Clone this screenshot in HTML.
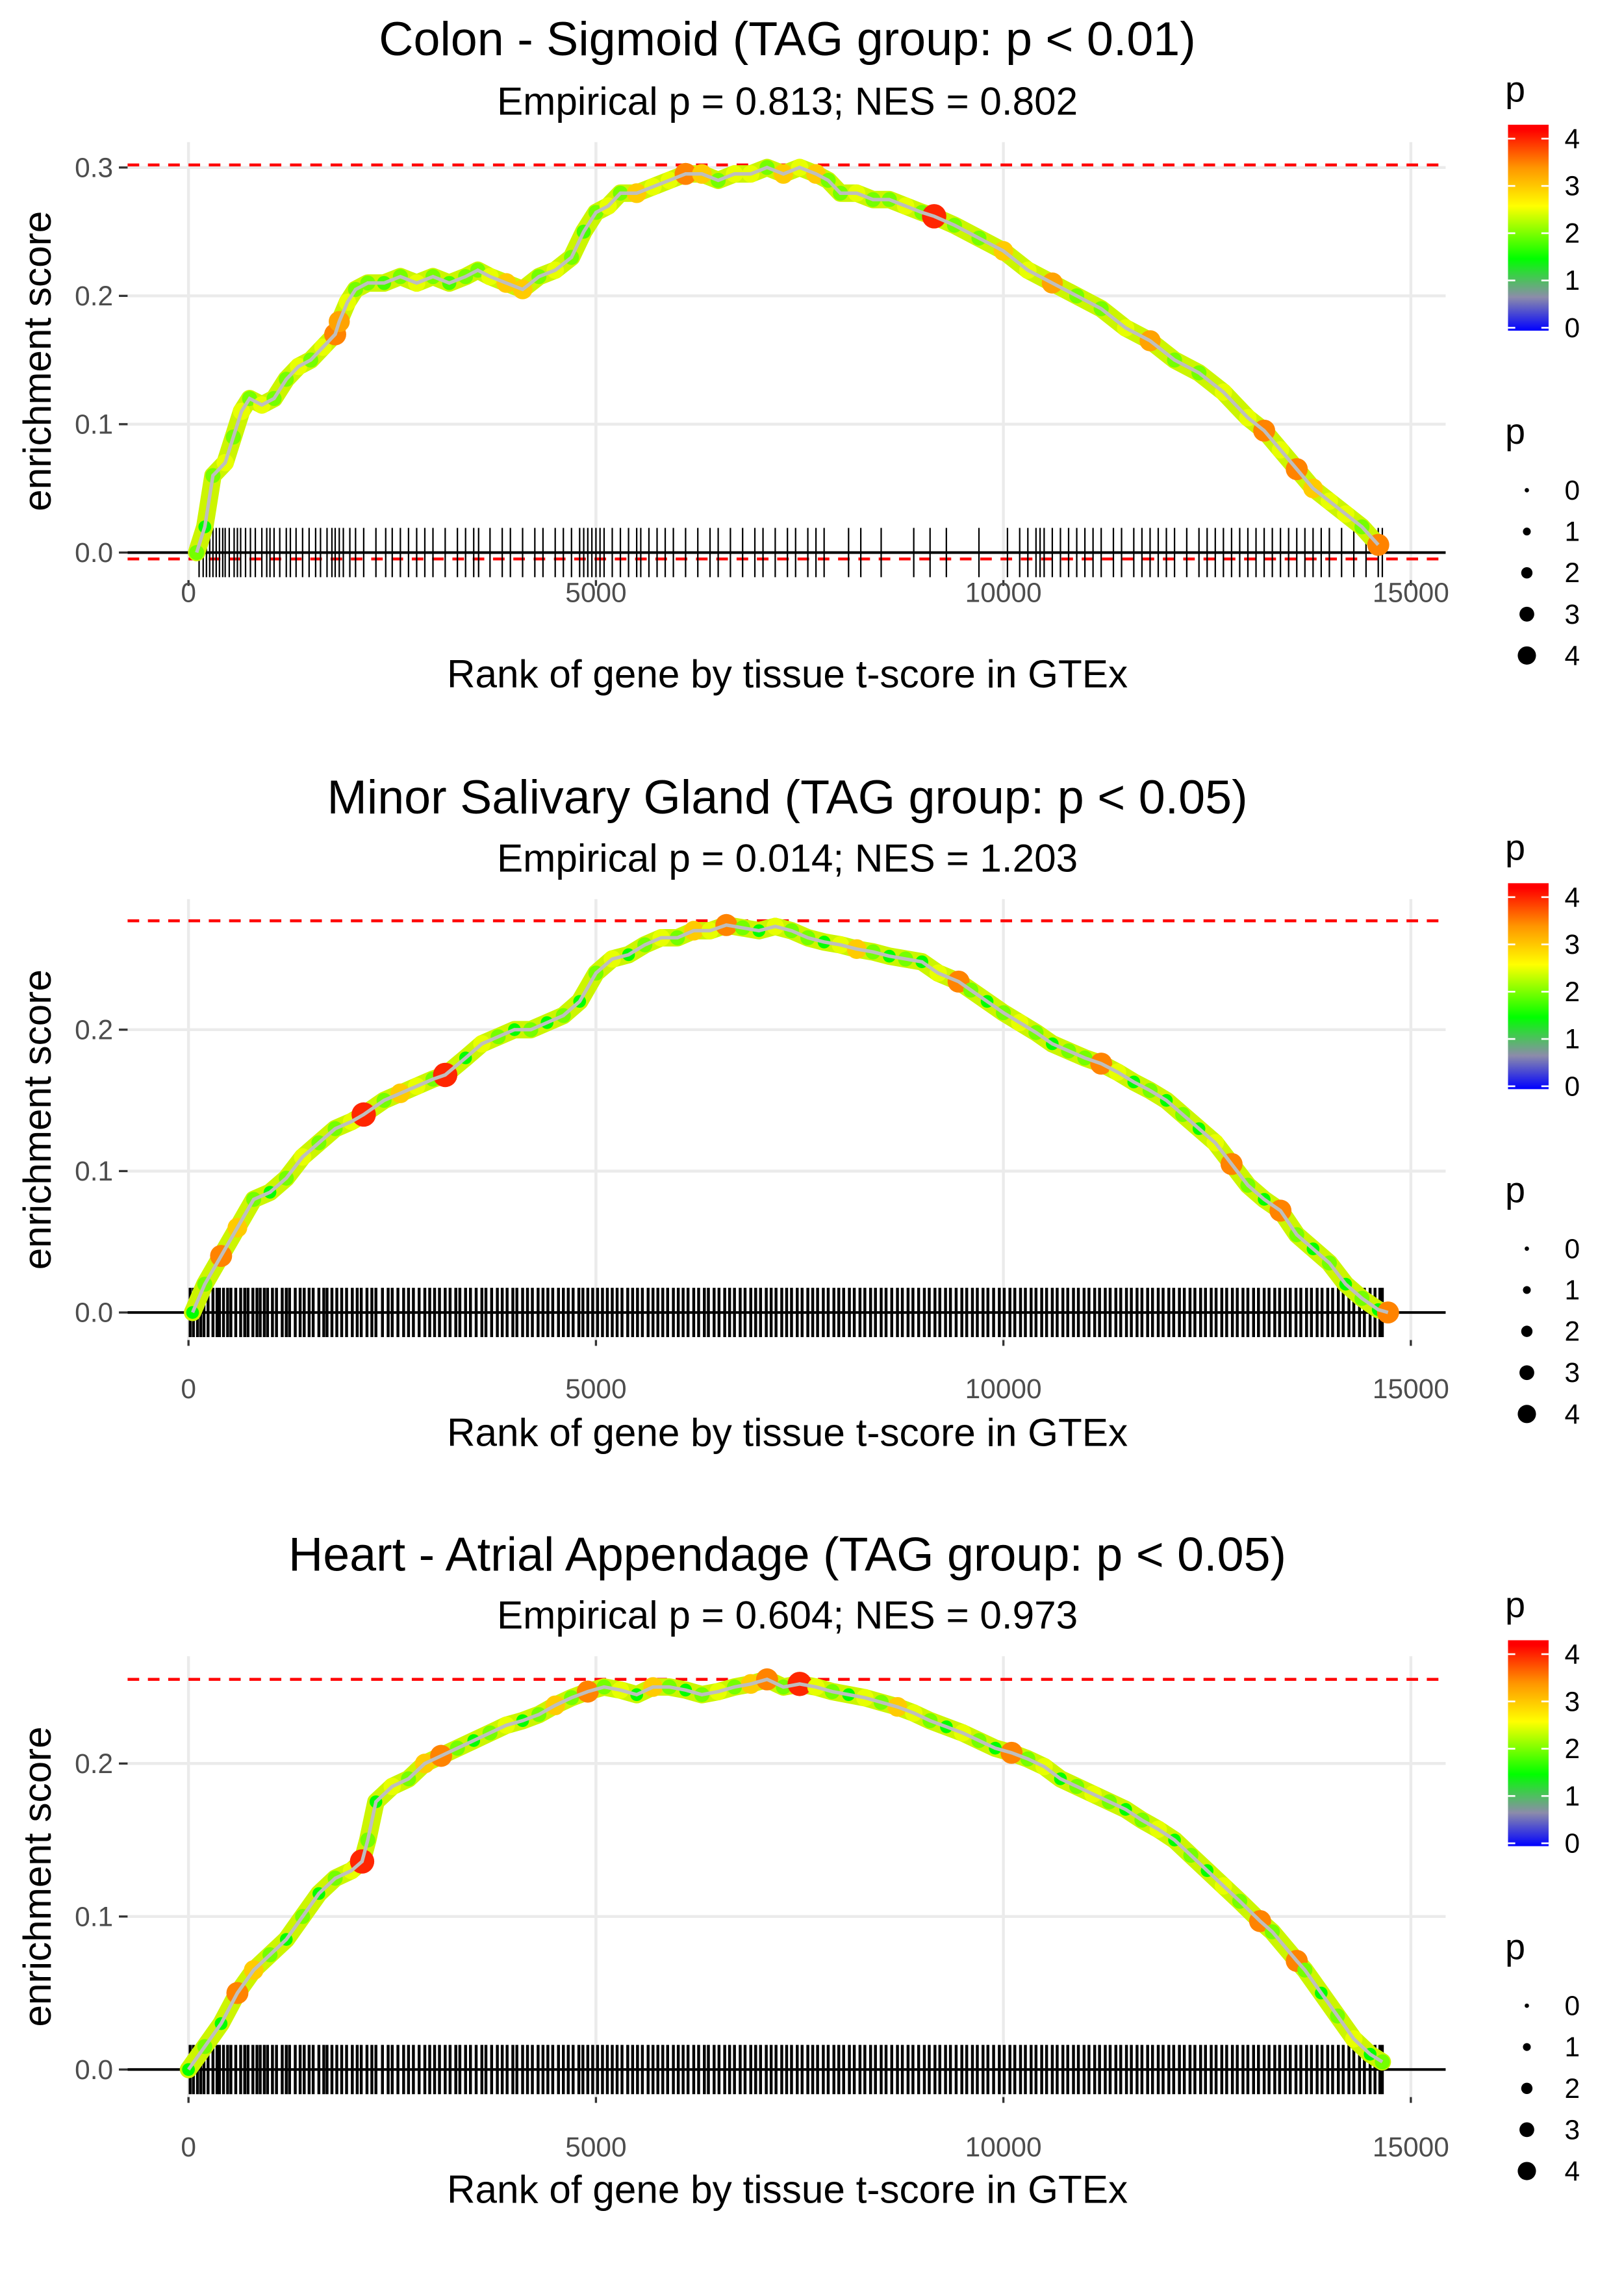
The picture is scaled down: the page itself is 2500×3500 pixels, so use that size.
<!DOCTYPE html>
<html><head><meta charset="utf-8"><style>
html,body{margin:0;padding:0;background:#fff}
svg{display:block;font-family:"Liberation Sans",sans-serif}
</style></head><body>
<svg id="chart" width="2500" height="3500" viewBox="0 0 1120 1568" xmlns="http://www.w3.org/2000/svg"></svg>
<script>
// ---------- data ----------
const xTicks = [0, 5000, 10000, 15000];
const titles = ["Colon - Sigmoid (TAG group: p < 0.01)", "Minor Salivary Gland (TAG group: p < 0.05)", "Heart - Atrial Appendage (TAG group: p < 0.05)"];
const subtitles = ["Empirical p = 0.813; NES = 0.802", "Empirical p = 0.014; NES = 1.203", "Empirical p = 0.604; NES = 0.973"];
const yTicks1 = [0, 0.1, 0.2, 0.3];
const yTicks2 = [0, 0.1, 0.2];
const yTicks3 = [0, 0.1, 0.2];
const dashed1 = [0.302, -0.005];
const dashed2 = [0.277];
const dashed3 = [0.255];
const legendP = [0, 1, 2, 3, 4];

const p1Rank = [100,200,300,450,550,650,750,900,1050,1200,1350,1500,1650,1800,1850,1950,2050,2200,2400,2600,2800,3000,3200,3400,3550,3700,3900,4100,4300,4500,4700,4850,5000,5150,5300,5500,5700,5900,6100,6300,6500,6700,6900,7100,7300,7500,7700,7850,8000,8200,8400,8600,8800,9000,9150,9400,9700,10000,10300,10600,10900,11200,11500,11800,12100,12400,12700,13000,13200,13400,13600,13800,14000,14200,14400,14600];
const p1ES = [0.0,0.02,0.06,0.07,0.09,0.11,0.12,0.115,0.12,0.135,0.145,0.15,0.16,0.17,0.18,0.195,0.205,0.21,0.21,0.215,0.21,0.215,0.21,0.215,0.22,0.215,0.21,0.205,0.215,0.22,0.23,0.25,0.265,0.27,0.28,0.28,0.285,0.29,0.295,0.295,0.29,0.295,0.295,0.3,0.295,0.3,0.295,0.29,0.28,0.28,0.275,0.275,0.27,0.265,0.262,0.255,0.245,0.235,0.22,0.21,0.2,0.19,0.175,0.165,0.15,0.14,0.125,0.105,0.095,0.08,0.065,0.05,0.04,0.03,0.02,0.006];
const p1P = [2,1.5,2,2.5,2,2.5,2,2.5,2,2,2.5,2,2.5,3.5,3.3,2.5,2,2,1.8,2,2.5,2,1.8,2,2,2.5,3,3,2,2.5,2,1.8,2,2.5,2,3,2.5,2.5,3.5,3,2,2.5,2.5,2,3,2.5,3,2,2,2.5,2,2,2.5,2,4,2,2,3,2.5,3.3,2,2,2.5,3.3,2,2,2.5,2.5,3.5,2.5,3.5,3,2.5,2.5,2,3.5];
const p1Rug = [130,180,220,260,300,340,380,420,450,500,560,600,640,700,760,820,900,960,1000,1050,1120,1200,1250,1320,1400,1480,1560,1620,1700,1760,1800,1850,1900,1980,2050,2150,2300,2420,2500,2600,2700,2800,2900,3000,3150,3300,3400,3500,3560,3700,3850,3950,4100,4250,4350,4500,4600,4700,4800,4850,4900,4950,5000,5050,5100,5200,5300,5400,5500,5550,5650,5750,5850,5950,6100,6250,6400,6500,6650,6800,6950,7050,7200,7350,7450,7600,7700,7800,8100,8250,8500,8900,9100,9300,9700,10050,10200,10300,10400,10450,10500,10600,10700,10800,10900,11000,11100,11200,11350,11450,11600,11700,11800,11900,12000,12100,12250,12400,12500,12600,12700,12800,12900,13000,13100,13200,13300,13400,13500,13600,13700,13800,13900,14000,14150,14300,14450,14600,14650];

const p2Rank = [50,200,400,600,800,1000,1200,1400,1600,1800,2000,2150,2400,2600,2800,3000,3150,3400,3600,3800,4000,4200,4400,4600,4800,5000,5200,5400,5600,5800,6000,6200,6400,6600,6800,7000,7200,7400,7600,7800,8000,8200,8400,8600,8800,9000,9200,9450,9600,9800,10000,10200,10400,10600,10800,11000,11200,11400,11600,11800,12000,12200,12400,12600,12800,13000,13200,13400,13600,13800,14000,14200,14400,14600,14720];
const p2ES = [0.0,0.02,0.04,0.06,0.08,0.085,0.095,0.11,0.12,0.13,0.135,0.14,0.15,0.155,0.16,0.165,0.168,0.18,0.19,0.195,0.2,0.2,0.205,0.21,0.22,0.24,0.25,0.253,0.26,0.265,0.265,0.27,0.27,0.274,0.272,0.27,0.273,0.27,0.265,0.262,0.26,0.257,0.255,0.252,0.25,0.248,0.24,0.234,0.228,0.22,0.212,0.205,0.198,0.19,0.185,0.18,0.176,0.17,0.163,0.157,0.15,0.14,0.13,0.12,0.105,0.09,0.08,0.072,0.055,0.045,0.035,0.02,0.01,0.002,0.0];
const p2P = [1.5,2,3.5,3,2,1.5,2,2.5,2,2,2.5,4,2,3,2.5,2,4,1.5,2.5,2,1.5,2,1.5,2,1.5,2,2.5,1.5,2,2.5,2,3,2.5,3.5,2,1.5,2.5,2,2,1.5,2.5,3,2,1.5,2,1.5,2.5,3.5,2,1.5,2,2.5,2,1.5,2,2,3.5,2.5,1.5,2,1.5,2,1.5,2.5,3.5,2,1.5,3.5,2,1.5,2,1.5,2,1.5,3.5];
const p2Rug = [20,60,110,150,190,240,300,350,380,430,480,520,580,640,690,730,790,840,880,930,970,1030,1080,1150,1200,1240,1310,1370,1420,1480,1530,1600,1660,1700,1760,1820,1880,1940,2010,2070,2120,2190,2250,2300,2380,2450,2500,2570,2640,2700,2760,2830,2900,2960,3020,3080,3150,3210,3280,3330,3400,3460,3530,3600,3650,3720,3790,3850,3910,3980,4030,4100,4160,4220,4290,4350,4410,4470,4540,4600,4660,4720,4790,4840,4900,4960,5020,5080,5140,5200,5260,5320,5390,5450,5510,5570,5640,5700,5760,5820,5880,5950,6010,6070,6130,6200,6260,6330,6380,6450,6510,6580,6640,6700,6770,6830,6900,6960,7020,7090,7150,7210,7280,7340,7400,7470,7530,7600,7660,7720,7790,7850,7920,7980,8040,8110,8170,8240,8300,8370,8430,8500,8560,8630,8700,8760,8830,8890,8960,9030,9090,9160,9220,9290,9350,9420,9490,9550,9620,9680,9750,9810,9880,9950,10010,10080,10140,10210,10270,10340,10400,10470,10530,10600,10660,10730,10790,10860,10920,10990,11050,11120,11180,11250,11310,11380,11440,11510,11570,11640,11700,11770,11830,11900,11960,12030,12090,12160,12220,12290,12350,12420,12480,12550,12610,12680,12740,12810,12870,12940,13000,13070,13130,13200,13260,13330,13390,13460,13520,13590,13650,13720,13780,13850,13910,13980,14040,14110,14170,14240,14300,14370,14430,14500,14560,14620,14650];

const p3Rank = [0,200,400,600,800,1000,1200,1400,1600,1800,2000,2130,2200,2300,2500,2700,2900,3100,3300,3500,3700,3900,4100,4300,4500,4700,4900,5100,5300,5500,5700,5900,6100,6300,6500,6700,6900,7100,7300,7500,7700,7900,8100,8300,8500,8700,8900,9100,9300,9500,9700,9900,10100,10300,10500,10700,10900,11100,11300,11500,11700,11900,12100,12300,12500,12700,12900,13150,13300,13600,13700,13900,14100,14300,14500,14650];
const p3ES = [0.0,0.015,0.03,0.05,0.065,0.075,0.085,0.1,0.115,0.125,0.13,0.136,0.15,0.175,0.185,0.19,0.2,0.205,0.21,0.215,0.22,0.225,0.228,0.232,0.238,0.243,0.247,0.25,0.248,0.245,0.25,0.25,0.248,0.245,0.247,0.25,0.252,0.255,0.25,0.252,0.25,0.247,0.245,0.243,0.24,0.237,0.233,0.228,0.224,0.22,0.215,0.21,0.207,0.203,0.198,0.19,0.185,0.18,0.175,0.17,0.163,0.157,0.15,0.14,0.13,0.12,0.11,0.097,0.09,0.071,0.065,0.05,0.035,0.02,0.01,0.005];
const p3P = [1.5,2,1.5,3.5,3,2,1.5,2,1.5,2,2.5,4,2,1.5,2.5,2,3,3.5,2,1.5,2,2.5,1.5,2,3,2,3.5,2,2.5,1.5,3,2,1.5,2,2.5,2,3,3.5,2,4,2.5,2,1.5,2.5,2,3,2.5,2,1.5,2.5,2,1.5,3.5,2,2.5,1.5,2,2.5,2,1.5,2,2.5,1.5,2,1.5,2.5,2,3.5,2,3.5,2,1.5,2,2.5,1.5,2];
const p3Rug = p2Rug;

// ---------- helpers ----------
const svg = document.getElementById('chart');
const NS = 'http://www.w3.org/2000/svg';
function mk(tag, attrs, parent) {
  const e = document.createElementNS(NS, tag);
  for (const k in attrs) e.setAttribute(k, attrs[k]);
  (parent || svg).appendChild(e);
  return e;
}
function xs(r) { return 130 + r * 843 / 15000; }
function lerp(a, b, t) { return Math.round(a + (b - a) * t); }
const cStops = [[0,[0,0,255]],[0.7,[140,140,170]],[1.5,[0,255,0]],[2.6,[255,255,0]],[3.4,[255,150,0]],[4.2,[255,0,0]]];
function pColor(p) {
  for (let i = 1; i < cStops.length; i++) {
    if (p <= cStops[i][0]) {
      const a = cStops[i-1], b = cStops[i], t = (p - a[0]) / (b[0] - a[0]);
      return 'rgb(' + lerp(a[1][0], b[1][0], t) + ',' + lerp(a[1][1], b[1][1], t) + ',' + lerp(a[1][2], b[1][2], t) + ')';
    }
  }
  return 'rgb(255,0,0)';
}
function pRad(p) { return 2 + 1.6 * p; }

const panels = [
  {y0:381, ppu:885, top:98, bottom:400, yt:yTicks1, dash:dashed1, rank:p1Rank, es:p1ES, pv:p1P, rug:p1Rug, rh:17, rw:1.0, tY:38, sY:79, xlY:415, xtY:474, off:0},
  {y0:905, ppu:975, top:620, bottom:924, yt:yTicks2, dash:dashed2, rank:p2Rank, es:p2ES, pv:p2P, rug:p2Rug, rh:17, rw:2, tY:561, sY:601, xlY:964, xtY:997, off:523},
  {y0:1427, ppu:1055, top:1142, bottom:1446, yt:yTicks3, dash:dashed3, rank:p3Rank, es:p3ES, pv:p3P, rug:p3Rug, rh:17, rw:2, tY:1083, sY:1123, xlY:1487, xtY:1519, off:1045}
];

panels.forEach(function(P, i) {
  const n = i + 1;
  const ys = v => P.y0 - v * P.ppu;
  const g = mk('g', {});
  
  

  const t = mk('text', {x:543, y:P.tY, 'text-anchor':'middle', 'font-size':33, fill:'#000'}, g);
  t.textContent = titles[i];
  
  
  const st = mk('text', {x:543, y:P.sY, 'text-anchor':'middle', 'font-size':27, fill:'#000'}, g);
  st.textContent = subtitles[i];
  
  

  const grid = mk('g', {stroke:'#ebebeb', 'stroke-width':2}, g);
  
  
  xTicks.forEach(v => mk('line', {x1:xs(v), x2:xs(v), y1:P.top, y2:P.bottom}, grid));
  P.yt.forEach(v => mk('line', {x1:88, x2:997, y1:ys(v), y2:ys(v)}, grid));

  P.yt.forEach(v => {
    mk('line', {x1:82, x2:88, y1:ys(v), y2:ys(v), stroke:'#333', 'stroke-width':1.5}, g);
    const tl = mk('text', {x:78, y:ys(v) + 6.5, 'text-anchor':'end', 'font-size':19, fill:'#4d4d4d'}, g);
    tl.textContent = v.toFixed(1);
    
    
  });
  xTicks.forEach(v => {
    mk('line', {x1:xs(v), x2:xs(v), y1:P.bottom, y2:P.bottom + 4, stroke:'#333', 'stroke-width':1.5}, g);
    const tl = mk('text', {x:xs(v), y:P.xlY, 'text-anchor':'middle', 'font-size':19, fill:'#4d4d4d'}, g);
    tl.textContent = String(v);
    
    
  });
  const xt = mk('text', {x:543, y:P.xtY, 'text-anchor':'middle', 'font-size':27, fill:'#000'}, g);
  xt.textContent = 'Rank of gene by tissue t-score in GTEx';
  
  
  const ymid = (P.top + P.bottom) / 2;
  const yt = mk('text', {x:35, y:ymid, 'text-anchor':'middle', 'font-size':27, fill:'#000', transform:'rotate(-90 35 ' + ymid + ')'}, g);
  yt.textContent = 'enrichment score';
  
  

  P.dash.forEach(v => {
    const d = mk('line', {x1:88, x2:997, y1:ys(v), y2:ys(v), stroke:'#ff0000', 'stroke-width':2, 'stroke-dasharray':'8 6'}, g);
    
    
  });

  const rug = mk('g', {stroke:'#000', 'stroke-width':P.rw}, g);
  
  
  P.rug.forEach(r => mk('line', {x1:xs(r), x2:xs(r), y1:P.y0 - P.rh, y2:P.y0 + P.rh}, rug));
  const zl = mk('line', {x1:88, x2:997, y1:P.y0, y2:P.y0, stroke:'#000', 'stroke-width':1.8}, g);
  
  

  const linePts = P.rank.map((r, k) => xs(r) + ',' + ys(P.es[k])).join(' ');
  const band = mk('polyline', {points:linePts, fill:'none', stroke:'#ccf500', 'stroke-width':12, 'stroke-linejoin':'round', 'stroke-linecap':'round'}, g);
  
  

  const pts = mk('g', {}, g);
  
  
  P.rank.forEach((r, k) => {
    const c = mk('circle', {cx:xs(r), cy:ys(P.es[k]), r:pRad(P.pv[k]), fill:pColor(P.pv[k])}, pts);
    
    
  });
  const ln = mk('polyline', {points:linePts, fill:'none', stroke:'#bebebe', 'stroke-width':2.4}, g);
  
  

  const off = P.off;
  const lg = mk('g', {}, g);
  
  
  const lt = mk('text', {x:1038, y:70 + off, 'font-size':25, fill:'#000'}, lg);
  lt.textContent = 'p';
  const gid = 'grad' + n;
  const defs = mk('defs', {}, lg);
  const gr = mk('linearGradient', {id:gid, x1:0, y1:1, x2:0, y2:0}, defs);
  cStops.forEach(s => mk('stop', {offset:Math.min(s[0] / 4.3, 1), 'stop-color':pColor(s[0])}, gr));
  mk('rect', {x:1040, y:86 + off, width:28, height:142, fill:'url(#' + gid + ')'}, lg);
  legendP.forEach(v => {
    const yy = 226 + off - v * 32.6;
    mk('line', {x1:1040, x2:1045, y1:yy, y2:yy, stroke:'#fff', 'stroke-width':1.2}, lg);
    mk('line', {x1:1063, x2:1068, y1:yy, y2:yy, stroke:'#fff', 'stroke-width':1.2}, lg);
    const tx = mk('text', {x:1079, y:yy + 6.5, 'font-size':19, fill:'#000'}, lg);
    tx.textContent = String(v);
  });
  const sg = mk('g', {}, g);
  
  
  const s2 = mk('text', {x:1038, y:306 + off, 'font-size':25, fill:'#000'}, sg);
  s2.textContent = 'p';
  legendP.forEach((v, k) => {
    const yy = 338 + off + k * 28.5;
    mk('circle', {cx:1053, cy:yy, r:Math.max(1.3, pRad(v) * 0.75), fill:'#000'}, sg);
    const tx = mk('text', {x:1079, y:yy + 6.5, 'font-size':19, fill:'#000'}, sg);
    tx.textContent = String(v);
  });
});
</script>
</body></html>
